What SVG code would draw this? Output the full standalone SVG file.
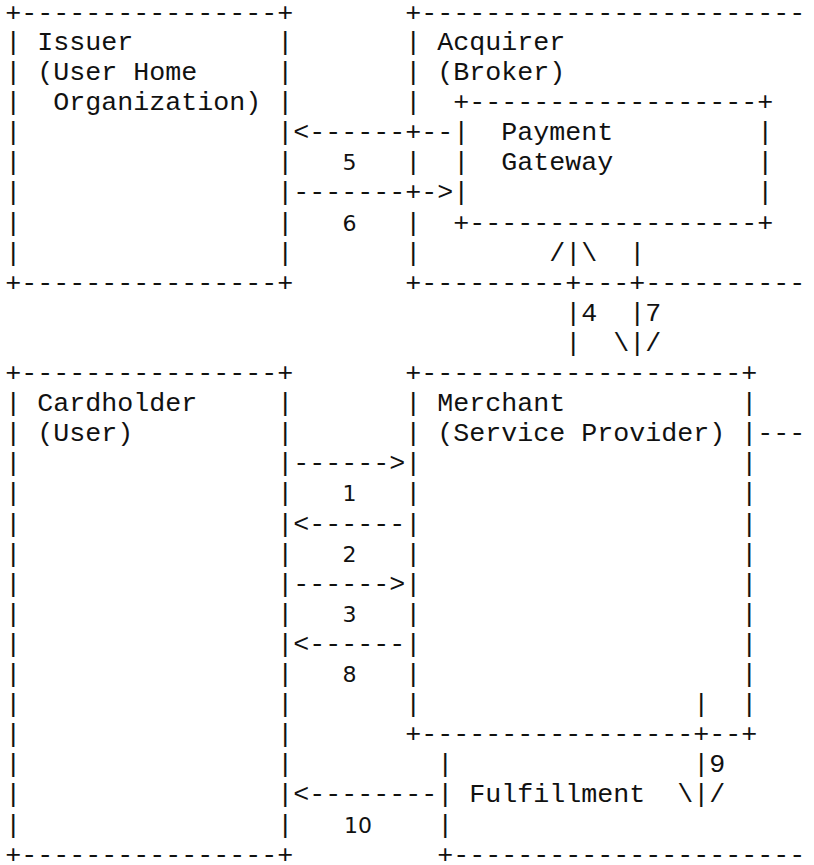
<svg xmlns="http://www.w3.org/2000/svg" width="814" height="865" viewBox="0 0 814 865">
<style>
text{font-family:"Liberation Mono","DejaVu Sans Mono",monospace;font-size:26.67px;fill:#111;white-space:pre}
text.d{font-family:"DejaVu Sans","Liberation Sans",sans-serif;font-size:22px;text-anchor:middle}
</style>
<rect width="814" height="865" fill="#fff"/>
<g id="issuer">
<text x="5.3" y="20.6">+----------------+</text>
<text x="5.3" y="49.9">|</text><text x="37.3" y="49.9">Issuer</text><text x="277.3" y="49.9">|</text>
<text x="5.3" y="80.0">|</text><text x="37.3" y="80.0">(User Home</text><text x="277.3" y="80.0">|</text>
<text x="5.3" y="110.1">|</text><text x="53.3" y="110.1">Organization)</text><text x="277.3" y="110.1">|</text>
<text x="5.3" y="140.2">|</text><text x="277.3" y="140.2">|</text>
<text x="5.3" y="170.3">|</text><text x="277.3" y="170.3">|</text>
<text x="5.3" y="200.4">|</text><text x="277.3" y="200.4">|</text>
<text x="5.3" y="230.5">|</text><text x="277.3" y="230.5">|</text>
<text x="5.3" y="260.6">|</text><text x="277.3" y="260.6">|</text>
<text x="5.3" y="290.7">+----------------+</text>
</g>
<g id="acquirer">
<text x="405.3" y="20.6">+------------------------</text>
<text x="405.3" y="49.9">|</text><text x="437.3" y="49.9">Acquirer</text>
<text x="405.3" y="80.0">|</text><text x="437.3" y="80.0">(Broker)</text>
<text x="405.3" y="110.1">|</text>
<text x="405.3" y="170.3">|</text>
<text x="405.3" y="230.5">|</text>
<text x="405.3" y="260.6">|</text>
<text x="405.3" y="290.7">+---------+---+----------</text>
</g>
<g id="payment-gateway">
<text x="453.3" y="110.1">+------------------+</text>
<text x="453.3" y="140.2">|</text><text x="501.3" y="140.2">Payment</text><text x="757.3" y="140.2">|</text>
<text x="453.3" y="170.3">|</text><text x="501.3" y="170.3">Gateway</text><text x="757.3" y="170.3">|</text>
<text x="453.3" y="200.4">|</text><text x="757.3" y="200.4">|</text>
<text x="453.3" y="230.5">+------------------+</text>
</g>
<g id="cardholder">
<text x="5.3" y="381.0">+----------------+</text>
<text x="5.3" y="411.1">|</text><text x="37.3" y="411.1">Cardholder</text><text x="277.3" y="411.1">|</text>
<text x="5.3" y="441.2">|</text><text x="37.3" y="441.2">(User)</text><text x="277.3" y="441.2">|</text>
<text x="5.3" y="471.3">|</text><text x="277.3" y="471.3">|</text>
<text x="5.3" y="501.4">|</text><text x="277.3" y="501.4">|</text>
<text x="5.3" y="531.5">|</text><text x="277.3" y="531.5">|</text>
<text x="5.3" y="561.6">|</text><text x="277.3" y="561.6">|</text>
<text x="5.3" y="591.7">|</text><text x="277.3" y="591.7">|</text>
<text x="5.3" y="621.8">|</text><text x="277.3" y="621.8">|</text>
<text x="5.3" y="651.9">|</text><text x="277.3" y="651.9">|</text>
<text x="5.3" y="682.0">|</text><text x="277.3" y="682.0">|</text>
<text x="5.3" y="712.1">|</text><text x="277.3" y="712.1">|</text>
<text x="5.3" y="742.2">|</text><text x="277.3" y="742.2">|</text>
<text x="5.3" y="772.3">|</text><text x="277.3" y="772.3">|</text>
<text x="5.3" y="802.4">|</text><text x="277.3" y="802.4">|</text>
<text x="5.3" y="832.5">|</text><text x="277.3" y="832.5">|</text>
<text x="5.3" y="862.6">+----------------+</text>
</g>
<g id="merchant">
<text x="405.3" y="381.0">+--------------------+</text>
<text x="405.3" y="411.1">|</text><text x="437.3" y="411.1">Merchant</text><text x="741.3" y="411.1">|</text>
<text x="405.3" y="441.2">|</text><text x="437.3" y="441.2">(Service Provider)</text><text x="741.3" y="441.2">|</text>
<text x="405.3" y="471.3">|</text><text x="741.3" y="471.3">|</text>
<text x="405.3" y="501.4">|</text><text x="741.3" y="501.4">|</text>
<text x="405.3" y="531.5">|</text><text x="741.3" y="531.5">|</text>
<text x="405.3" y="561.6">|</text><text x="741.3" y="561.6">|</text>
<text x="405.3" y="591.7">|</text><text x="741.3" y="591.7">|</text>
<text x="405.3" y="621.8">|</text><text x="741.3" y="621.8">|</text>
<text x="405.3" y="651.9">|</text><text x="741.3" y="651.9">|</text>
<text x="405.3" y="682.0">|</text><text x="741.3" y="682.0">|</text>
<text x="405.3" y="712.1">|</text><text x="741.3" y="712.1">|</text>
<text x="405.3" y="742.2">+-----------------+--+</text>
</g>
<g id="fulfillment">
<text x="437.3" y="772.3">|</text>
<text x="437.3" y="802.4">|</text><text x="469.3" y="802.4">Fulfillment</text>
<text x="437.3" y="832.5">|</text>
<text x="437.3" y="862.6">+----------------------</text>
</g>
<g id="connectors">
<text x="293.3" y="140.2">&lt;------+--</text>
<text class="d" x="349.5" y="170.3">5</text>
<text x="293.3" y="200.4">-------+-&gt;</text>
<text class="d" x="349.5" y="230.5">6</text>
<text x="549.3" y="260.6">/|\</text><text x="629.3" y="260.6">|</text>
<text x="565.3" y="320.8">|4</text><text x="629.3" y="320.8">|7</text>
<text x="565.3" y="350.9">|</text><text x="613.3" y="350.9">\|/</text>
<text x="757.3" y="441.2">---</text>
<text x="293.3" y="471.3">------&gt;</text>
<text class="d" x="349.5" y="501.4">1</text>
<text x="293.3" y="531.5">&lt;------</text>
<text class="d" x="349.5" y="561.6">2</text>
<text x="293.3" y="591.7">------&gt;</text>
<text class="d" x="349.5" y="621.8">3</text>
<text x="293.3" y="651.9">&lt;------</text>
<text class="d" x="349.5" y="682.0">8</text>
<text x="693.3" y="712.1">|</text>
<text x="693.3" y="772.3">|9</text>
<text x="293.3" y="802.4">&lt;--------</text><text x="677.3" y="802.4">\|/</text>
<text class="d" x="358" y="832.5">10</text>
</g>
</svg>
